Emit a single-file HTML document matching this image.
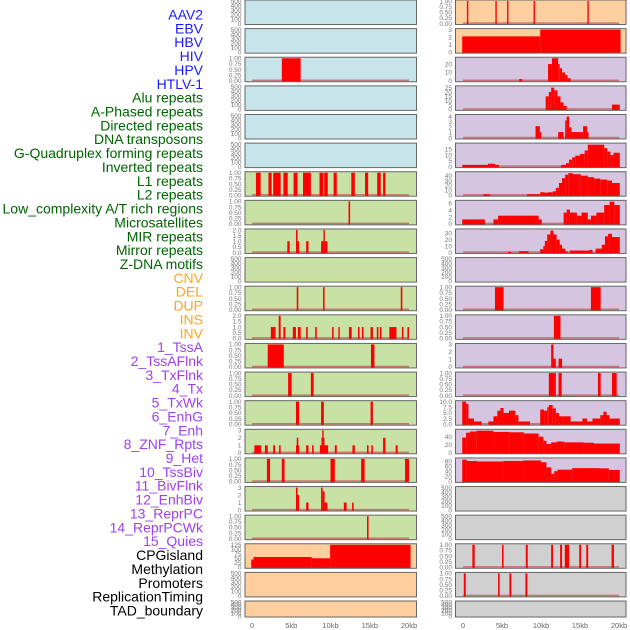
<!DOCTYPE html>
<html><head><meta charset="utf-8">
<style>
html,body{margin:0;padding:0;background:#fff;width:630px;height:630px;overflow:hidden}
svg{display:block}
</style></head>
<body>
<svg id="chart" width="630" height="630" xmlns="http://www.w3.org/2000/svg"></svg>
<script>
// ---- labels ----
const trackLabels = ["AAV2","EBV","HBV","HIV","HPV","HTLV-1","Alu repeats","A-Phased repeats","Directed repeats","DNA transposons","G-Quadruplex forming repeats","Inverted repeats","L1 repeats","L2 repeats","Low_complexity A/T rich regions","Microsatellites","MIR repeats","Mirror repeats","Z-DNA motifs","CNV","DEL","DUP","INS","INV","1_TssA","2_TssAFlnk","3_TxFlnk","4_Tx","5_TxWk","6_EnhG","7_Enh","8_ZNF_Rpts","9_Het","10_TssBiv","11_BivFlnk","12_EnhBiv","13_ReprPC","14_ReprPCWk","15_Quies","CPGisland","Methylation","Promoters","ReplicationTiming","TAD_boundary"];
const labelColors = {0:"#1a1aff",6:"#006400",19:"#ffa520",24:"#a040f0",39:"#000000"};
const xTicks = [0,5,10,15,20];
const xTickLabels = ["0","5kb","10kb","15kb","20kb"];

// ---- backgrounds ----
const leftBg = ["blue","blue","blue","blue","blue","blue","green","green","green","green","green","green","green","green","green","green","green","green","green","peach","peach","peach"];
const rightBg = ["peach","peach","purple","purple","purple","purple","purple","purple","purple","purple","purple","purple","purple","purple","purple","purple","purple","gray","gray","gray","gray","gray"];

// ---- data: segments [start kb, end kb] & values ----
const L2_s=[3.8], L2_e=[6.2], L2_v=[1];
const L6_s=[0.5,2.1,2.7,4.0,5.3,6.5,8.6,9.2,10.4,12.65,14.4,15.95,16.7];
const L6_e=[1.1,2.5,3.65,4.55,5.8,7.5,9.1,9.65,10.8,13.1,14.8,16.4,17.0];
const L6_v=[1,1,1,1,1,1,1,1,1,1,1,1,1];
const L7_s=[12.3], L7_e=[12.5], L7_v=[1];
const L8_s=[4.5,5.6,5.8,6.9,8.8,9.1,9.25], L8_e=[4.8,5.8,6.0,7.2,9.1,9.25,9.6], L8_v=[1,2,1,1,1,2,1];
const L10_s=[5.7,9.05,18.95], L10_e=[5.9,9.25,19.15], L10_v=[1,1,1];
const L11_s=[2.4,3.4,4.0,5.2,5.85,6.9,8.05,10.2,11.0,12.35,13.5,14.0,15.1,15.9,16.3,17.5,19.1,19.8];
const L11_e=[3.0,3.65,4.25,5.6,6.2,7.1,8.25,10.4,11.15,12.7,13.7,14.2,15.4,16.1,16.5,18.4,19.3,20.0];
const L11_v=[1,2,1,1,1,1,1,1,1,1,1,1,1,1,1,1,1,1];
const L12_s=[2.0,15.15], L12_e=[4.05,15.6], L12_v=[1,1];
const L13_s=[4.6,7.5], L13_e=[5.05,7.85], L13_v=[1,1];
const L14_s=[5.6,8.8,15.1], L14_e=[6.0,9.15,15.4], L14_v=[1,1,1];
const L15_s=[0.3,1.65,2.7,3.45,5.6,5.7,6.9,7.65,8.65,8.85,8.95,9.05,10.55,12.8,14.65,15.2,16.7,18.3];
const L15_e=[1.15,2.0,2.95,3.65,6.0,5.9,7.2,7.85,9.7,9.2,9.05,9.15,10.8,13.1,14.85,15.4,17.0,18.55];
const L15_v=[1,1,1,1,1,2,1,1,1,2,3,2,1,1,1,1,2,1];
const L16_s=[1.9,3.8,10.0,13.9,19.5], L16_e=[2.3,4.15,10.55,14.35,20.0], L16_v=[1,1,1,1,1];
const L17_s=[5.6,5.8,6.9,8.8,9.0,9.25,11.7,12.75], L17_e=[5.8,6.0,7.2,9.0,9.25,9.6,12.05,12.95], L17_v=[3,2,1,3,2.5,1,1,1];
const L18_s=[14.65], L18_e=[14.85], L18_v=[1];
const L19_s=[-0.1,0.2,7.6,9.95], L19_e=[0.2,7.6,9.95,20.2], L19_v=[43,57,50,125];

const R0_s=[0.5,4.15,5.65,9.05,15.95], R0_e=[0.65,4.3,5.8,9.2,16.1], R0_v=[1,1,1,1,1];
const R1_s=[-0.1,9.9], R1_e=[9.9,20.2], R1_v=[2.1,3];
const R2_s=[7.2,10.9,11.4,12.2,12.4,12.7,13.1,13.4], R2_e=[7.6,11.4,12.2,12.4,12.7,13.1,13.4,13.8], R2_v=[2,20,27,20,15,10,7,3];
const R3_s=[10.6,11.0,11.3,11.7,12.1,12.5,12.9,19.1], R3_e=[11.0,11.3,11.7,12.1,12.5,12.9,13.3,20.1], R3_v=[15,20,25,22,15,8,4,5.5];
const R4_s=[9.3,9.85,12.2,13.1,13.3,13.6,13.9,15.4,15.9], R4_e=[9.85,10.05,12.9,13.3,13.6,13.9,15.4,15.9,16.1], R4_v=[2.2,1.1,1.1,3.3,4,2,1.1,2.2,1.1];
const R5_s=[-0.1,3.2,4.1,12.6,13.2,13.6,14.0,14.4,15.0,15.6,16.0,18.1,18.5,18.9,19.3];
const R5_e=[3.2,4.1,4.6,13.2,13.6,14.0,14.4,15.0,15.6,16.0,18.1,18.5,18.9,19.3,20.1];
const R5_v=[1.5,2.5,1.5,1.5,3,6,8,9.5,11,14,19,16,13,10,12];
const R6_s=[2.6,8.2,9.9,10.5,10.9,11.5,11.9,12.3,12.7,13.1,13.5,14.1,15.1,16.0,16.8,17.6,18.5,19.1];
const R6_e=[3.5,9.9,10.5,10.9,11.5,11.9,12.3,12.7,13.1,13.5,14.1,15.1,16.0,16.8,17.6,18.5,19.1,20.1];
const R6_v=[2,2,6,5,6,8,15,25,35,42,45,43,40,37,34,32,30,25];
const R7_s=[-0.1,3.9,4.5,9.7,12.9,13.3,13.7,14.6,15.2,16.0,16.4,17.1,18.1,18.8,19.4];
const R7_e=[2.8,4.5,9.7,10.1,13.3,13.7,14.6,15.2,16.0,16.4,17.1,18.1,18.8,19.4,20.1];
const R7_v=[1.3,1.3,2.4,1.3,3.3,4.2,3.3,2.4,3.3,1.3,2.4,3.3,5.5,6.5,5.5];
const R8_s=[5.8,7.2,9.9,10.3,10.5,10.8,11.2,11.6,12.0,12.4,12.7,13.1,13.7,16.2,17.0,17.8,18.2,18.6,19.1];
const R8_e=[6.2,8.4,10.3,10.5,10.8,11.2,11.6,12.0,12.4,12.7,13.1,13.4,16.2,16.6,17.8,18.2,18.6,19.1,20.1];
const R8_v=[1,2,5,10,18,28,34,28,20,12,6,2,3,4,6,12,25,29,24];
const R10_s=[4.1,16.4], R10_e=[5.2,17.65], R10_v=[1,1];
const R11_s=[11.65], R11_e=[12.5], R11_v=[1];
const R12_s=[11.3,11.6,12.25], R12_e=[11.6,11.9,12.7], R12_v=[3,1.1,1.1];
const R13_s=[11.0,12.25,17.3,19.1], R13_e=[11.9,12.65,17.65,19.7], R13_v=[1,1,1,1];
const R14_s=[-0.1,0.4,0.7,1.4,3.25,3.9,4.4,4.8,5.2,5.9,6.7,7.1,9.9,10.4,10.8,11.0,11.5,11.9,12.3,12.9,13.8,15.3,15.9,16.6,17.6,18.0,18.4,18.8];
const R14_e=[0.4,0.7,1.4,2.4,3.9,4.4,4.8,5.2,5.9,6.7,7.1,8.6,10.4,10.8,11.0,11.5,11.9,12.3,12.9,13.8,15.3,15.9,16.6,17.6,18.0,18.4,18.8,20.1];
const R14_v=[10,9,2.5,1.2,1.2,3.5,6,7.2,5,6,4,1.2,6.5,6,7.5,8.5,7,5,3.5,3.5,1.2,2.5,1.2,2.5,4,5.5,4,2.5];
const R15_s=[-0.1,0.4,0.9,1.7,3.9,6.0,7.8,9.7,10.3,10.7,11.3,12.0,13.0,15.5,16.8];
const R15_e=[0.4,0.9,1.7,3.9,6.0,7.8,9.7,10.3,10.7,11.3,12.0,13.0,15.5,16.8,20.1];
const R15_v=[38,50,53,55,52,51,48,40,30,22,26,28,26,25,23];
const R16_s=[-0.1,0.5,1.8,5.2,7.7,10.0,10.7,11.3,11.7,12.1,14.0,17.5,18.7];
const R16_e=[0.5,1.8,5.2,7.7,10.0,10.7,11.3,11.7,12.1,14.0,17.5,18.7,20.1];
const R16_v=[85,80,78,80,82,75,55,30,40,46,52,51,45];
const R19_s=[1.2,5.0,8.05,11.3,12.45,13.05,14.9,15.8,19.05], R19_e=[1.5,5.2,8.3,11.55,12.7,13.6,15.15,16.05,19.35], R19_v=[1,1,1,1,1,1,1,1,1];
const R20_s=[0.1,4.5,5.95,8.0], R20_e=[0.35,4.7,6.2,8.25], R20_v=[1,1,1,1];

// ---- y-axis ticks ----
const tEmpty=[0,100,200,300,400,500], tFrac=[0,0.25,0.5,0.75,1];
const tTwo=[0,0.5,1,1.5,2], tThree=[0,1,2,3];

const f2 = v=>v.toFixed(2), f1=v=>v.toFixed(1), f0=v=>String(v);
const panels = [
 ["L",0,null,null,null,500,tEmpty,f0],["L",1,null,null,null,500,tEmpty,f0],
 ["L",2,L2_s,L2_e,L2_v,1,tFrac,f2],["L",3,null,null,null,500,tEmpty,f0],
 ["L",4,null,null,null,500,tEmpty,f0],["L",5,null,null,null,500,tEmpty,f0],
 ["L",6,L6_s,L6_e,L6_v,1,tFrac,f2],["L",7,L7_s,L7_e,L7_v,1,tFrac,f2],
 ["L",8,L8_s,L8_e,L8_v,2,tTwo,f1],["L",9,null,null,null,500,tEmpty,f0],
 ["L",10,L10_s,L10_e,L10_v,1,tFrac,f2],["L",11,L11_s,L11_e,L11_v,2,tTwo,f1],
 ["L",12,L12_s,L12_e,L12_v,1,tFrac,f2],["L",13,L13_s,L13_e,L13_v,1,tFrac,f2],
 ["L",14,L14_s,L14_e,L14_v,1,tFrac,f2],["L",15,L15_s,L15_e,L15_v,3,tThree,f0],
 ["L",16,L16_s,L16_e,L16_v,1,tFrac,f2],["L",17,L17_s,L17_e,L17_v,3,tThree,f0],
 ["L",18,L18_s,L18_e,L18_v,1,tFrac,f2],["L",19,L19_s,L19_e,L19_v,125,[0,25,50,75,100,125],f0],
 ["L",20,null,null,null,500,tEmpty,f0],["L",21,null,null,null,500,tEmpty,f0],
 ["R",0,R0_s,R0_e,R0_v,1,tFrac,f2],["R",1,R1_s,R1_e,R1_v,3,tThree,f0],
 ["R",2,R2_s,R2_e,R2_v,27,[0,10,20],f0],["R",3,R3_s,R3_e,R3_v,26,[0,5,10,15,20,25],f0],
 ["R",4,R4_s,R4_e,R4_v,4.2,[0,1,2,3,4],f0],["R",5,R5_s,R5_e,R5_v,19.5,[0,5,10,15],f0],
 ["R",6,R6_s,R6_e,R6_v,46,[0,10,20,30,40],f0],["R",7,R7_s,R7_e,R7_v,6.6,[0,2,4,6],f0],
 ["R",8,R8_s,R8_e,R8_v,35,[0,10,20,30],f0],["R",9,null,null,null,500,tEmpty,f0],
 ["R",10,R10_s,R10_e,R10_v,1,tFrac,f2],["R",11,R11_s,R11_e,R11_v,1,tFrac,f2],
 ["R",12,R12_s,R12_e,R12_v,3,tThree,f0],["R",13,R13_s,R13_e,R13_v,1,tFrac,f2],
 ["R",14,R14_s,R14_e,R14_v,10,[0,2.5,5,7.5,10],f1],["R",15,R15_s,R15_e,R15_v,56,[0,20,40],f0],
 ["R",16,R16_s,R16_e,R16_v,88,[0,20,40,60,80],f0],["R",17,null,null,null,500,tEmpty,f0],
 ["R",18,null,null,null,500,tEmpty,f0],["R",19,R19_s,R19_e,R19_v,1,tFrac,f2],
 ["R",20,R20_s,R20_e,R20_v,1,tFrac,f2],["R",21,null,null,null,500,tEmpty,f0]
];

const bgColors = {blue:"#c8e4eb",green:"#c8e1a5",peach:"#fecf9e",purple:"#d5c5e1",gray:"#d0d0d0"};
const NS="http://www.w3.org/2000/svg";
const svg=document.getElementById("chart");
function mk(tag,attrs,parent){const e=document.createElementNS(NS,tag);for(const k in attrs)e.setAttribute(k,attrs[k]);(parent||svg).appendChild(e);return e;}

const side = {L:{x0:245,x1:416.5,k0:252,k20:409},R:{x0:455.5,x1:626,k0:463,k20:619}};
function xScale(s,kb){const g=side[s];return g.k0+(g.k20-g.k0)*kb/20;}
function rowTop(r){return r*28.62;}
function rowH(r){return r===21?16:24.5;}

// labels
let col="#000";
trackLabels.forEach((t,i)=>{
  if(labelColors[i]!==undefined) col=labelColors[i];
  const el=mk("text",{x:203,y:19.5+i*13.86,"text-anchor":"end","font-family":"Liberation Sans, sans-serif","font-size":"14",fill:col});
  el.textContent=t;
  
  
});

panels.forEach(p=>{
  const [s,r,starts,ends,vals,ymax,ticks,fmt]=p;
  const g=side[s], top=rowTop(r), h=rowH(r), bot=top+h;
  const bg=(s==="L"?leftBg:rightBg)[r];
  const grp=mk("g",{});
  
  
  mk("rect",{x:g.x0,y:top,width:g.x1-g.x0,height:h,fill:bgColors[bg]},grp);
  const yS=v=>bot-1-(h-2)*v/ymax;
  if(starts){
    mk("rect",{x:xScale(s,0),y:bot-2.2,width:xScale(s,20)-xScale(s,0),height:1.6,fill:"#c0504d",opacity:0.7},grp);
    for(let i=0;i<starts.length;i++){
      const xa=Math.max(xScale(s,starts[i]),g.x0), xb=Math.min(xScale(s,ends[i]),g.x1);
      const y=yS(vals[i]);
      const b=mk("rect",{x:xa,y:y,width:Math.max(xb-xa,1.4),height:bot-y,fill:"#ff0000"},grp);
      
      
    }
  }
  mk("rect",{x:g.x0,y:top,width:g.x1-g.x0,height:h,fill:"none",stroke:"#666",
    "stroke-width":1},grp);
  ticks.forEach(t=>{
    const y=yS(t);
    const tl=mk("text",{x:g.x0-3.5,y:y+2.3,"text-anchor":"end","font-family":"Liberation Sans, sans-serif","font-size":"6.5",fill:"#777"},grp);
    tl.textContent=fmt(t);
    
    
  });
});

// x axis labels
["L","R"].forEach(s=>{
  xTicks.forEach((t,i)=>{
    const el=mk("text",{x:xScale(s,t),y:628,"text-anchor":"middle","font-family":"Liberation Sans, sans-serif","font-size":"7.5",fill:"#666"});
    el.textContent=xTickLabels[i];
    
    
  });
});
</script>
</body></html>
